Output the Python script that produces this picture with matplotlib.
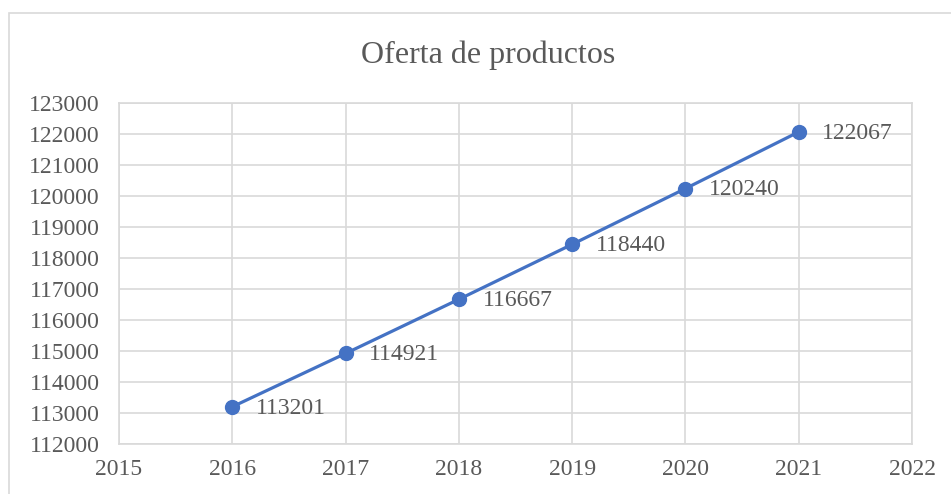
import matplotlib.pyplot as plt
from matplotlib.patches import Rectangle

years = [2016, 2017, 2018, 2019, 2020, 2021]
oferta = [113201, 114921, 116667, 118440, 120240, 122067]
title = 'Oferta de productos'

plt.rcParams['font.family'] = ['Liberation Serif', 'DejaVu Serif']
blue = '#4472C4'
gray_txt = '#595959'
grid_c = '#D9D9D9'

fig = plt.figure(figsize=(9.51, 4.94), dpi=100)
# chart border (cut off at right/bottom like the original)
fig.patches.append(Rectangle((9 / 951, -0.2), 1.2, 0.2 + (494 - 13) / 494,
                             transform=fig.transFigure, fill=False,
                             edgecolor=grid_c, linewidth=1.2))

ax = fig.add_axes([119 / 951, 50 / 494, (912 - 119) / 951, (444 - 103) / 494])
ax.plot(years, oferta, color=blue, linewidth=2.3, marker='o',
        markersize=10, zorder=3)
for x, y in zip(years, oferta):
    ax.annotate(str(y), (x, y), xytext=(17, -1), textcoords='offset points',
                ha='left', va='center', fontsize=17, color=gray_txt)

ax.set_xlim(2015, 2022)
ax.set_ylim(112000, 123000)
ax.set_xticks(range(2015, 2023))
ax.set_yticks(range(112000, 123001, 1000))
ax.grid(True, color=grid_c, linewidth=1.2)
ax.set_axisbelow(True)
for s in ax.spines.values():
    s.set_color(grid_c)
    s.set_linewidth(1.2)
ax.tick_params(length=0, labelsize=17, labelcolor=gray_txt)
ax.tick_params(axis='y', pad=14)
ax.tick_params(axis='x', pad=11)

fig.text(488 / 951, (494 - 55) / 494, title, ha='center', va='center',
         fontsize=23, color=gray_txt)

fig.savefig('out.png', dpi=100)
